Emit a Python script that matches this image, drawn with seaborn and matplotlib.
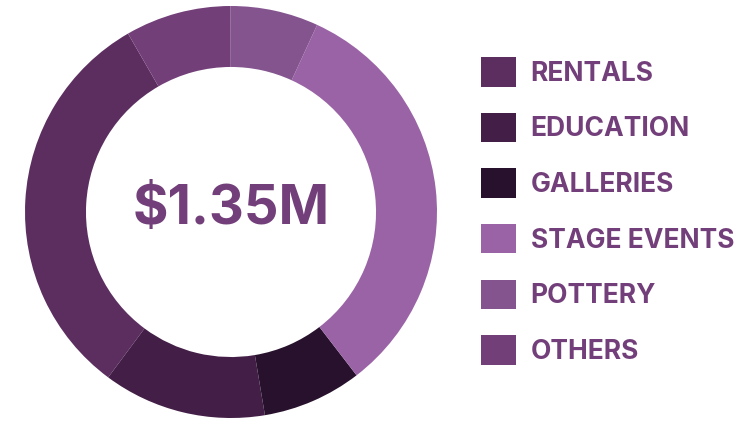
import matplotlib
matplotlib.use("Agg")
import matplotlib.pyplot as plt
import seaborn as sns

CATEGORIES = ["RENTALS", "EDUCATION", "GALLERIES", "STAGE EVENTS", "POTTERY", "OTHERS"]
SHARES = [31.5, 12.8, 7.8, 32.7, 6.9, 8.3]
COLORS = ["#5c2e60", "#431e46", "#28112d", "#9a63a6", "#84548f", "#733f79"]
TOTAL_LABEL = "$1.35M"

TEXT_COLOR = "#733f7a"

sns.set_theme(style="white")
plt.rcParams["font.family"] = ["Inter", "DejaVu Sans"]

fig = plt.figure(figsize=(7.39, 4.22), dpi=100)
ax = fig.add_axes([25 / 739, 4 / 422, 412 / 739, 412 / 422])

wedges, _ = ax.pie(
    SHARES,
    colors=COLORS,
    startangle=120,
    counterclock=True,
    radius=1.0,
    wedgeprops={"width": 0.296, "linewidth": 0},
)
ax.set_xlim(-1, 1)
ax.set_ylim(-1, 1)
ax.set_aspect("equal")
ax.axis("off")

ax.text(0, 0.01, TOTAL_LABEL, ha="center", va="center",
        fontsize=39, fontweight="bold", color=TEXT_COLOR)

leg = fig.legend(
    wedges,
    CATEGORIES,
    loc="center left",
    bbox_to_anchor=(481 / 739, 0.5),
    frameon=False,
    fontsize=19,
    handlelength=1.33,
    handleheight=1.33,
    handletextpad=0.55,
    labelspacing=0.99,
    borderpad=0,
    borderaxespad=0,
)
for t in leg.get_texts():
    t.set_color(TEXT_COLOR)
    t.set_fontweight("bold")

fig.savefig("out.png", dpi=100)
